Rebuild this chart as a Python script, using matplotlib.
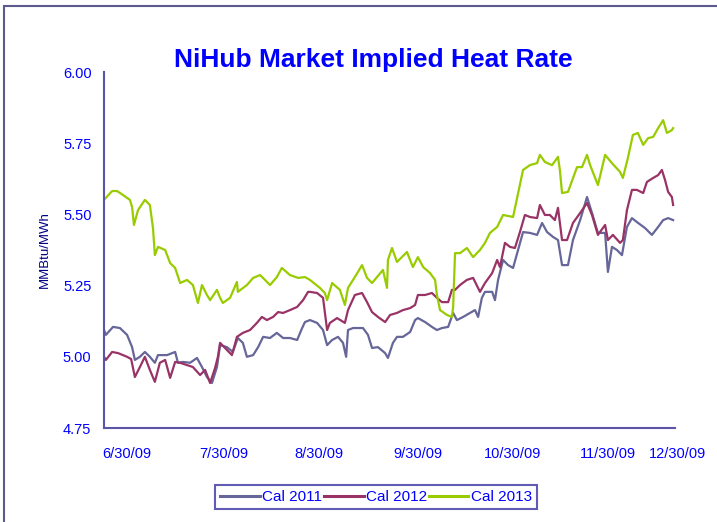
import matplotlib
matplotlib.use("Agg")
import matplotlib.pyplot as plt
import matplotlib.transforms as mtransforms
from matplotlib.patches import Rectangle
import datetime as dt

# days after 6/30/09 and heat rate values (MMBtu/MWh)
days_2011 = [0.0, 0.6, 2.9, 5.1, 7.4, 9.0, 9.9, 11.5, 13.1, 14.7, 16.3, 17.3, 20.2, 22.8, 23.7,
             25.3, 27.6, 29.8, 31.4, 33.0, 34.6, 36.2, 37.2, 39.4, 41.3, 42.9, 44.5, 45.8, 47.8,
             49.4, 51.0, 53.2, 55.4, 57.4, 59.6, 61.9, 63.5, 64.4, 66.0, 68.3, 70.2, 71.5, 73.1,
             75.0, 76.6, 77.6, 78.2, 79.8, 83.0, 84.6, 85.9, 87.8, 90.1, 91.0, 92.6, 93.9, 95.8,
             98.1, 99.7, 100.6, 102.9, 105.1, 106.7, 108.3, 110.3, 111.9, 113.1, 115.1, 117.3,
             118.9, 119.9, 121.1, 122.1, 124.4, 125.3, 126.3, 127.9, 129.5, 131.1, 132.7, 134.3,
             136.5, 138.8, 140.4, 142.0, 143.9, 145.5, 146.8, 148.7, 150.3, 152.6, 154.8, 156.4,
             158.3, 160.6, 161.5, 162.8, 164.4, 166.0, 167.6, 169.2, 170.8, 173.4, 175.6, 177.6,
             179.2, 180.8, 182.4]
cal_2011 = [5.094, 5.077, 5.105, 5.101, 5.077, 5.034, 4.989, 5.000, 5.017, 5.000, 4.979, 5.006,
            5.006, 5.017, 4.979, 4.982, 4.979, 4.996, 4.964, 4.929, 4.908, 4.964, 5.041, 5.034,
            5.017, 5.066, 5.049, 5.000, 5.006, 5.034, 5.070, 5.066, 5.084, 5.066, 5.066, 5.059,
            5.101, 5.122, 5.129, 5.119, 5.094, 5.041, 5.059, 5.070, 5.049, 5.000, 5.094, 5.101,
            5.101, 5.077, 5.031, 5.034, 5.013, 4.996, 5.049, 5.070, 5.070, 5.087, 5.129, 5.136,
            5.122, 5.105, 5.094, 5.101, 5.105, 5.154, 5.129, 5.140, 5.154, 5.164, 5.140, 5.207,
            5.228, 5.228, 5.199, 5.270, 5.340, 5.322, 5.312, 5.375, 5.438, 5.435, 5.428, 5.470,
            5.438, 5.421, 5.410, 5.322, 5.322, 5.410, 5.480, 5.561, 5.505, 5.435, 5.435, 5.298,
            5.386, 5.375, 5.357, 5.456, 5.487, 5.473, 5.452, 5.428, 5.456, 5.480, 5.487, 5.480]

days_2012 = [0.0, 0.6, 2.6, 4.5, 7.4, 8.7, 9.9, 11.5, 13.1, 14.7, 16.3, 17.9, 19.6, 21.2, 22.8,
             24.4, 26.6, 28.5, 30.8, 32.4, 34.0, 35.6, 36.5, 37.2, 39.4, 41.0, 42.6, 44.5, 46.8,
             49.0, 50.6, 52.2, 54.2, 55.8, 57.4, 59.6, 61.9, 63.8, 65.4, 66.0, 68.3, 70.2, 71.5,
             72.4, 74.7, 77.2, 78.2, 80.4, 82.7, 84.3, 85.9, 87.8, 90.1, 91.7, 93.9, 95.8, 98.1,
             99.7, 100.6, 102.9, 105.1, 106.7, 108.3, 110.3, 111.5, 112.5, 114.1, 116.3, 118.3,
             120.5, 122.1, 124.4, 126.0, 126.9, 128.5, 130.1, 131.7, 133.3, 134.9, 136.5, 138.8,
             139.7, 141.3, 142.9, 144.5, 145.5, 146.8, 148.4, 150.3, 152.6, 154.8, 156.4, 158.3,
             160.6, 161.5, 163.1, 165.4, 166.3, 167.6, 169.2, 170.8, 172.8, 174.0, 176.0, 177.6,
             178.8, 179.8, 180.8, 182.0, 182.4]
cal_2012 = [5.000, 4.989, 5.017, 5.013, 5.000, 4.992, 4.929, 4.964, 5.000, 4.954, 4.912, 4.979,
            4.989, 4.926, 4.982, 4.979, 4.971, 4.964, 4.936, 4.954, 4.908, 4.961, 5.000, 5.049,
            5.024, 5.006, 5.070, 5.084, 5.094, 5.119, 5.140, 5.129, 5.140, 5.157, 5.154, 5.164,
            5.175, 5.199, 5.228, 5.228, 5.224, 5.207, 5.094, 5.119, 5.136, 5.119, 5.164, 5.217,
            5.224, 5.192, 5.157, 5.140, 5.122, 5.147, 5.154, 5.164, 5.171, 5.182, 5.217, 5.217,
            5.224, 5.207, 5.192, 5.192, 5.235, 5.235, 5.252, 5.270, 5.277, 5.228, 5.259, 5.294,
            5.340, 5.315, 5.400, 5.386, 5.382, 5.438, 5.498, 5.491, 5.487, 5.533, 5.498, 5.498,
            5.480, 5.523, 5.410, 5.410, 5.470, 5.505, 5.540, 5.498, 5.428, 5.463, 5.410, 5.428,
            5.400, 5.410, 5.515, 5.586, 5.586, 5.575, 5.614, 5.628, 5.638, 5.656, 5.621, 5.579,
            5.561, 5.533]

days_2013 = [0.0, 2.6, 4.2, 6.1, 8.3, 9.0, 9.6, 10.9, 13.1, 14.7, 15.7, 16.3, 17.3, 19.6, 21.2,
             22.8, 24.4, 26.6, 28.5, 30.1, 31.4, 33.0, 34.0, 36.2, 37.2, 38.1, 40.4, 42.6, 42.9,
             45.8, 47.8, 50.0, 51.6, 53.2, 55.4, 57.0, 59.6, 62.2, 64.4, 66.0, 69.2, 70.8, 71.5,
             73.1, 75.6, 77.2, 78.2, 80.4, 82.7, 84.3, 85.9, 87.5, 89.4, 90.7, 91.0, 92.3, 93.9,
             97.1, 99.0, 100.6, 102.3, 104.5, 106.1, 106.7, 107.7, 109.9, 111.5, 111.9, 112.5,
             114.1, 116.3, 118.3, 120.5, 122.1, 123.7, 126.0, 127.9, 131.1, 134.3, 136.5, 138.8,
             139.7, 141.3, 143.6, 145.5, 146.1, 146.8, 148.7, 151.6, 153.2, 154.8, 155.8, 158.3,
             160.6, 162.8, 165.4, 166.3, 167.9, 169.5, 171.1, 172.8, 174.4, 176.0, 177.6, 179.2,
             180.4, 182.0, 182.4]
cal_2013 = [5.551, 5.582, 5.582, 5.568, 5.551, 5.526, 5.463, 5.515, 5.551, 5.533, 5.452, 5.357,
            5.386, 5.375, 5.329, 5.312, 5.259, 5.270, 5.252, 5.189, 5.252, 5.217, 5.199, 5.235,
            5.207, 5.189, 5.207, 5.263, 5.228, 5.252, 5.277, 5.287, 5.270, 5.252, 5.280, 5.312,
            5.287, 5.277, 5.280, 5.270, 5.242, 5.224, 5.199, 5.259, 5.235, 5.182, 5.242, 5.280,
            5.322, 5.277, 5.259, 5.280, 5.305, 5.242, 5.340, 5.382, 5.333, 5.368, 5.315, 5.350,
            5.315, 5.294, 5.270, 5.217, 5.164, 5.147, 5.140, 5.175, 5.364, 5.364, 5.382, 5.350,
            5.375, 5.400, 5.435, 5.456, 5.498, 5.491, 5.656, 5.673, 5.680, 5.709, 5.684, 5.673,
            5.702, 5.656, 5.575, 5.579, 5.666, 5.666, 5.709, 5.673, 5.603, 5.709, 5.680, 5.649,
            5.628, 5.698, 5.779, 5.786, 5.744, 5.768, 5.772, 5.803, 5.831, 5.786, 5.796, 5.803]

tick_dates = ["2009-06-30", "2009-07-30", "2009-08-30", "2009-09-30",
              "2009-10-30", "2009-11-30", "2009-12-30"]
tick_labels = ["6/30/09", "7/30/09", "8/30/09", "9/30/09", "10/30/09", "11/30/09", "12/30/09"]
y_ticks = [4.75, 5.00, 5.25, 5.50, 5.75, 6.00]

start = dt.datetime(2009, 6, 30)


def to_dates(days):
    return [start + dt.timedelta(days=d) for d in days]


blue = "#0000ff"
axis_col = "#5b55a8"

fig = plt.figure(figsize=(7.17, 5.22), dpi=100)
plt.rcParams["font.family"] = ["Liberation Sans", "DejaVu Sans"]
ax = fig.add_axes([104 / 717, 1 - 428 / 522, (675 - 104) / 717, (428 - 72) / 522])

ax.plot(to_dates(days_2011), cal_2011, color="#666699", lw=1.6, label="Cal 2011")
ax.plot(to_dates(days_2012), cal_2012, color="#993366", lw=1.6, label="Cal 2012")
ax.plot(to_dates(days_2013), cal_2013, color="#99cc00", lw=1.6, label="Cal 2013")

ax.set_xlim(start, dt.datetime(2009, 12, 30))
ax.set_ylim(4.75, 6.00)
ax.set_yticks(y_ticks)
ax.set_yticklabels(["%.2f" % v for v in y_ticks])
ax.set_xticks([dt.datetime.strptime(t, "%Y-%m-%d") for t in tick_dates])
ax.set_xticklabels(tick_labels)

ax.tick_params(axis="both", length=0, labelsize=10.5, labelcolor=blue)
ax.tick_params(axis="x", pad=14)
ax.tick_params(axis="y", pad=9)

# excel pushed the date labels right of their ticks
offsets_px = [23, 26, 25, 27, 28, 27, 2]
for lab, off in zip(ax.get_xticklabels(), offsets_px):
    lab.set_transform(lab.get_transform() +
                      mtransforms.ScaledTranslation(off / 100, 0, fig.dpi_scale_trans))

for s in ["top", "right"]:
    ax.spines[s].set_visible(False)
for s in ["left", "bottom"]:
    ax.spines[s].set_color(axis_col)
    ax.spines[s].set_linewidth(1.5)

ax.set_ylabel("MMBtu/MWh", fontsize=9.5, color="#000080")
ax.yaxis.set_label_coords(-0.093, 0.5)

fig.text(373 / 717, 1 - 60 / 522, "NiHub Market Implied Heat Rate", ha="center", va="center",
         fontsize=19, fontweight="bold", color=blue)

leg = fig.legend(loc="center", bbox_to_anchor=(376 / 717, 1 - 497 / 522), ncol=3,
                 fontsize=11, frameon=True, fancybox=False, handlelength=2.6,
                 handletextpad=0.15, columnspacing=0.1, borderpad=0.35)
leg.get_frame().set_edgecolor("#3a32a0")
leg.get_frame().set_linewidth(1.5)
for t in leg.get_texts():
    t.set_color(blue)
for h in leg.get_lines():
    h.set_linewidth(2.2)

# outer chart border
fig.patches.append(Rectangle((4 / 717, -0.05), 1.1, 1 - 6 / 522 + 0.05, transform=fig.transFigure,
                             fill=False, edgecolor="#5a5a8c", lw=1.5, clip_on=False))

fig.savefig("out.png", dpi=100)
